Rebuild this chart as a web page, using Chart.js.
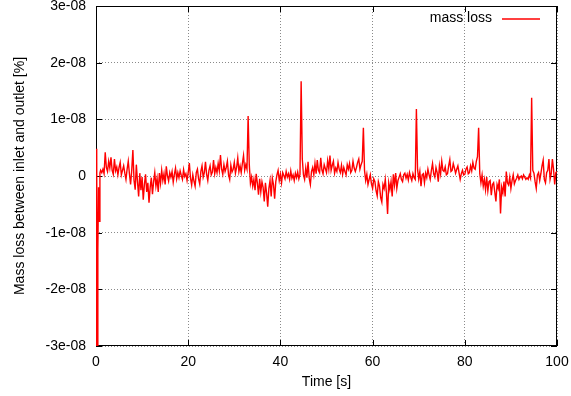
<!DOCTYPE html>
<html>
<head>
<meta charset="utf-8">
<script src="https://cdn.jsdelivr.net/npm/chart.js@4.4.1/dist/chart.umd.min.js"></script>
<style>
  html, body { margin: 0; padding: 0; background: #fff; }
  #wrap { width: 571px; height: 396px; }
</style>
</head>
<body>
<div id="wrap"><canvas id="chartLoss"></canvas></div>
<script>
/* data: time in s, mass loss in units of 1e-9 % */
var times = [
  0, 0.15, 0.25, 0.4, 0.55, 0.7, 0.85, 1.0,
  1.25, 1.5, 1.75, 2, 2.25, 2.5, 2.75, 3, 3.25, 3.5, 3.75, 4, 4.25, 4.5, 4.75, 5, 5.25, 5.5, 5.75, 6,
  6.25, 6.5, 6.75, 7, 7.25, 7.5, 7.75, 8, 8.25, 8.5, 8.75, 9, 9.25, 9.5, 9.75, 10, 10.25, 10.5, 10.75, 11,
  11.25, 11.5, 11.75, 12, 12.25, 12.5, 12.75, 13, 13.25, 13.5, 13.75, 14, 14.25, 14.5, 14.75, 15, 15.25, 15.5, 15.75, 16,
  16.25, 16.5, 16.75, 17, 17.25, 17.5, 17.75, 18, 18.25, 18.5, 18.75, 19, 19.25, 19.5, 19.75, 20, 20.25, 20.5, 20.75, 21,
  21.25, 21.5, 21.75, 22, 22.25, 22.5, 22.75, 23, 23.25, 23.5, 23.75, 24, 24.25, 24.5, 24.75, 25, 25.25, 25.5, 25.75, 26,
  26.25, 26.5, 26.75, 27, 27.25, 27.5, 27.75, 28, 28.25, 28.5, 28.75, 29, 29.25, 29.5, 29.75, 30, 30.25, 30.5, 30.75, 31,
  31.25, 31.5, 31.75, 32, 32.25, 32.5, 32.75, 33, 33.25, 33.5, 33.75, 34, 34.25, 34.5, 34.75, 35, 35.25, 35.5, 35.75, 36,
  36.25, 36.5, 36.75, 37, 37.25, 37.5, 37.75, 38, 38.25, 38.5, 38.75, 39, 39.25, 39.5, 39.75, 40, 40.25, 40.5, 40.75, 41,
  41.25, 41.5, 41.75, 42, 42.25, 42.5, 42.75, 43, 43.25, 43.5, 43.75, 44, 44.25, 44.5, 44.75, 45, 45.25, 45.5, 45.75, 46,
  46.25, 46.5, 46.75, 47, 47.25, 47.5, 47.75, 48, 48.25, 48.5, 48.75, 49, 49.25, 49.5, 49.75, 50, 50.25, 50.5, 50.75, 51,
  51.25, 51.5, 51.75, 52, 52.25, 52.5, 52.75, 53, 53.25, 53.5, 53.75, 54, 54.25, 54.5, 54.75, 55, 55.25, 55.5, 55.75, 56,
  56.25, 56.5, 56.75, 57, 57.25, 57.5, 57.75, 58, 58.25, 58.5, 58.75, 59, 59.25, 59.5, 59.75, 60, 60.25, 60.5, 60.75, 61,
  61.25, 61.5, 61.75, 62, 62.25, 62.5, 62.75, 63, 63.25, 63.5, 63.75, 64, 64.25, 64.5, 64.75, 65, 65.25, 65.5, 65.75, 66,
  66.25, 66.5, 66.75, 67, 67.25, 67.5, 67.75, 68, 68.25, 68.5, 68.75, 69, 69.25, 69.5, 69.75, 70, 70.25, 70.5, 70.75, 71,
  71.25, 71.5, 71.75, 72, 72.25, 72.5, 72.75, 73, 73.25, 73.5, 73.75, 74, 74.25, 74.5, 74.75, 75, 75.25, 75.5, 75.75, 76,
  76.25, 76.5, 76.75, 77, 77.25, 77.5, 77.75, 78, 78.25, 78.5, 78.75, 79, 79.25, 79.5, 79.75, 80, 80.25, 80.5, 80.75, 81,
  81.25, 81.5, 81.75, 82, 82.25, 82.5, 82.75, 83, 83.25, 83.5, 83.75, 84, 84.25, 84.5, 84.75, 85, 85.25, 85.5, 85.75, 86,
  86.25, 86.5, 86.75, 87, 87.25, 87.5, 87.75, 88, 88.25, 88.5, 88.75, 89, 89.25, 89.5, 89.75, 90, 90.25, 90.5, 90.75, 91,
  91.25, 91.5, 91.75, 92, 92.25, 92.5, 92.75, 93, 93.25, 93.5, 93.75, 94, 94.25, 94.5, 94.75, 95, 95.25, 95.5, 95.75, 96,
  96.25, 96.5, 96.75, 97, 97.25, 97.5, 97.75, 98, 98.25, 98.5, 98.75, 99, 99.25, 99.5, 99.75, 100
];
var massLoss = [
  -30, 4.8, -30, -13, -2, -8, 0.5, 1.0,
  0.6, 1.2, 0.4, 4.2, 1.5, 0.8, 2.6, 1.4, 3.3, 1.0, 0.3, 3.0, 0.9, 1.6, 0.2, 1.5, 2.4, 0.2, 1.0, 1.8,
  0.5, -0.6, 1.2, 2.6, 0.4, -1.5, 1.0, 4.6, -0.8, -2.4, 2.0, -1.0, -3.6, 0.5, -2.5, -0.2, -4.2, -1.5, 0.3, -2.8,
  -1.2, -4.7, -2.0, -0.3, -3.2, -1.0, 0.6, -1.8, -0.4, -2.8, 0.5, -1.3, 1.0, -0.8, 0.4, -1.5, 1.7, 0.0, -0.9, 0.6,
  -0.2, 0.8, -1.1, 0.3, 1.4, -0.5, 0.6, -0.3, 0.9, 0.1, -0.6, 1.1, -0.1, 0.4, -0.8, 0.6, 2.3, -0.4, -1.6, 0.2,
  -0.9, -1.8, 0.6, 1.2, -0.5, -1.4, 0.8, 1.8, -0.2, 0.6, 2.5, 0.3, -0.8, 1.0, 1.8, 0.2, 0.7, 2.8, 0.4, 1.5,
  0.6, 2.2, 0.9, 3.7, 1.2, 0.3, 2.0, 0.8, 1.5, 2.6, 0.2, -0.6, 1.9, 0.7, 1.2, 2.4, 0.5, 1.5, 3.2, 0.8,
  1.8, 0.6, 2.2, 3.6, 1.0, 2.0, 1.2, 10.6, 2.0, -1.3, -0.2, -1.8, -0.6, -2.5, 0.4, -1.2, -3.3, -0.5, -2.8, -1.0,
  -2.0, -4.5, -1.2, -3.0, -5.4, -2.2, -0.8, -3.6, -0.4, -1.5, -4.0, -1.0, 0.2, 1.0, -0.8, 0.3, -1.2, 0.6, 0.1, -0.5,
  0.8, -0.2, 0.4, -0.6, 0.9, -0.4, 0.2, -0.8, 0.5, -0.3, 0.7, -0.5, 0.3, 16.7, 3.0, 0.2, -0.6, 1.4, -0.3, 2.5,
  -0.4, -1.5, 0.8, 1.5, 0.2, 2.2, 0.4, 2.8, 1.0, 0.6, 3.2, 1.1, 0.4, 2.0, 1.3, 0.6, 2.7, 1.2, 3.6, 1.0,
  1.9, 2.6, 0.5, 1.4, 0.8, 2.4, 1.2, 0.6, 1.9, 0.3, 1.5, 0.8, 0.2, 2.0, 1.2, 2.2, 0.6, 1.0, 2.6, 1.4,
  0.8, 1.5, 2.4, 3.0, 1.2, 2.0, 2.6, 8.5, 1.0, -0.8, 0.3, -1.5, -0.6, 0.2, -1.4, -2.2, -0.5, -1.0, -2.6, -3.5,
  -1.0, -1.8, -3.8, -4.6, -1.5, -2.2, -0.6, -3.0, -6.7, -1.2, -2.4, -1.0, -3.6, 0.3, -1.6, 0.5, -2.2, -0.8, -0.2, 0.4,
  -0.6, -1.0, 0.2, 0.5, -0.4, 0.3, -0.7, 0.6, -0.2, -0.8, 0.4, -0.3, -0.6, 11.8, 1.2, -0.5, 0.8, -1.8, 0.2, 0.4,
  -1.2, 0.5, -0.3, 1.2, 0.2, -0.6, 1.0, 2.2, 0.4, -0.2, 1.5, 0.6, -1.0, 1.8, 0.4, 2.6, 1.0, 0.8, 1.6, 0.2,
  0.4, 1.8, 2.9, 0.8, 1.0, 2.2, 1.4, 0.5, 1.2, 1.8, 0.6, -0.6, 0.4, 1.0, 0.2, 0.3, 1.2, 1.6, 0.4, 0.6,
  1.8, 0.9, 2.4, 1.4, 1.2, 2.6, 3.4, 8.5, 0.4, -1.2, 0.2, -1.8, -0.6, -2.4, -0.2, -2.6, -1.0, -0.8, -3.4, -1.5,
  -1.2, -2.8, -4.5, -1.5, -2.2, -0.6, -6.6, -2.0, -3.0, -1.0, -3.6, 0.8, -1.2, -1.6, -0.2, -2.2, -0.8, 0.2, -1.4, -0.8,
  -0.4, 0.2, -0.6, -0.2, 0.0, -0.5, 0.2, -0.2, -0.6, -0.3, -0.6, 0.2, -0.4, 13.8, 1.0, 0.5, -1.0, -2.2, 0.2, 0.6,
  -0.8, 0.4, 1.8, 2.8, -0.6, -1.2, 0.6, 1.0, 3.0, -0.6, 0.4, 3.0, 1.2, -1.5, 0.6, 0.8
];
var yTickLabels = ["-3e-08", "-2e-08", "-1e-08", "0", "1e-08", "2e-08", "3e-08"];
var xTickLabels = ["0", "20", "40", "60", "80", "100"];

var points = times.map(function (t, i) { return { x: t, y: massLoss[i] }; });

const fontFam = "'Liberation Sans', Arial, sans-serif";
const tickFont = { family: fontFam, size: 14 };
const gridStyle = {
    color: "#8a8a8a",
    lineWidth: 1,
    drawTicks: false
};

// gnuplot style box with inner ticks, plus the key in the top right corner
var boxPlugin = {
    id: "box",
    beforeDatasetsDraw: function (chart) {
        var a = chart.chartArea;
        var c = chart.ctx;
        var sx = chart.scales.x, sy = chart.scales.y;
        c.save();
        c.strokeStyle = "#000";
        c.lineWidth = 1;
        c.setLineDash([]);
        c.beginPath();
        sx.ticks.forEach(function (t) {
            var px = Math.round(sx.getPixelForValue(t.value)) + 0.5;
            c.moveTo(px, a.bottom); c.lineTo(px, a.bottom - 6);
            c.moveTo(px, a.top); c.lineTo(px, a.top + 6);
        });
        sy.ticks.forEach(function (t) {
            var py = Math.round(sy.getPixelForValue(t.value)) + 0.5;
            c.moveTo(a.left, py); c.lineTo(a.left + 6, py);
            c.moveTo(a.right, py); c.lineTo(a.right - 6, py);
        });
        c.stroke();
        c.strokeRect(a.left + 0.5, a.top + 0.5, a.right - a.left - 1, a.bottom - a.top - 1);
        c.restore();
    },
    afterDatasetsDraw: function (chart) {
        var a = chart.chartArea;
        var c = chart.ctx;
        var ds = chart.data.datasets[0];
        c.save();
        c.font = "14px " + fontFam;
        c.fillStyle = "#000";
        c.textAlign = "right";
        c.textBaseline = "middle";
        c.fillText(ds.label, a.right - 65, a.top + 12);
        c.strokeStyle = ds.borderColor;
        c.lineWidth = 1.3;
        c.beginPath();
        c.moveTo(a.right - 55, a.top + 13);
        c.lineTo(a.right - 17, a.top + 13);
        c.stroke();
        c.restore();
    }
};

var chartLoss = new Chart(document.getElementById("chartLoss").getContext("2d"), {
    type: "line",
    data: {
        datasets: [{
            label: "mass loss",
            data: points,
            borderColor: "#ff0000",
            borderWidth: 1.4,
            pointRadius: 0,
            tension: 0,
            fill: false
        }]
    },
    options: {
        responsive: true,
        maintainAspectRatio: false,
        animation: false,
        layout: { padding: { top: 6, right: 14, left: 0, bottom: 0 } },
        plugins: {
            legend: { display: false },
            tooltip: { enabled: false }
        },
        scales: {
            x: {
                type: "linear",
                min: 0,
                max: 100,
                grid: gridStyle,
                border: { display: false, dash: [1, 2] },
                ticks: {
                    stepSize: 20,
                    padding: 8,
                    color: "#000",
                    font: tickFont,
                    maxRotation: 0,
                    callback: function (v, i) { return xTickLabels[i]; }
                },
                title: {
                    display: true,
                    text: "Time [s]",
                    color: "#000",
                    font: tickFont,
                    padding: { top: 4, bottom: 5 }
                },
                afterFit: function (s) {
                    s.height = 50;
                    s.paddingLeft = 0;
                    s.paddingRight = 0;
                }
            },
            y: {
                min: -30,
                max: 30,
                grid: gridStyle,
                border: { display: false, dash: [1, 2] },
                ticks: {
                    stepSize: 10,
                    padding: 10,
                    color: "#000",
                    font: tickFont,
                    callback: function (v, i) { return yTickLabels[i]; }
                },
                title: {
                    display: true,
                    text: "Mass loss between inlet and outlet [%]",
                    color: "#000",
                    font: tickFont,
                    padding: { top: 12, bottom: 0 }
                },
                afterFit: function (s) {
                    s.width = 96;
                    s.paddingTop = 0;
                    s.paddingBottom = 0;
                }
            }
        }
    },
    plugins: [boxPlugin]
});
</script>
</body>
</html>
